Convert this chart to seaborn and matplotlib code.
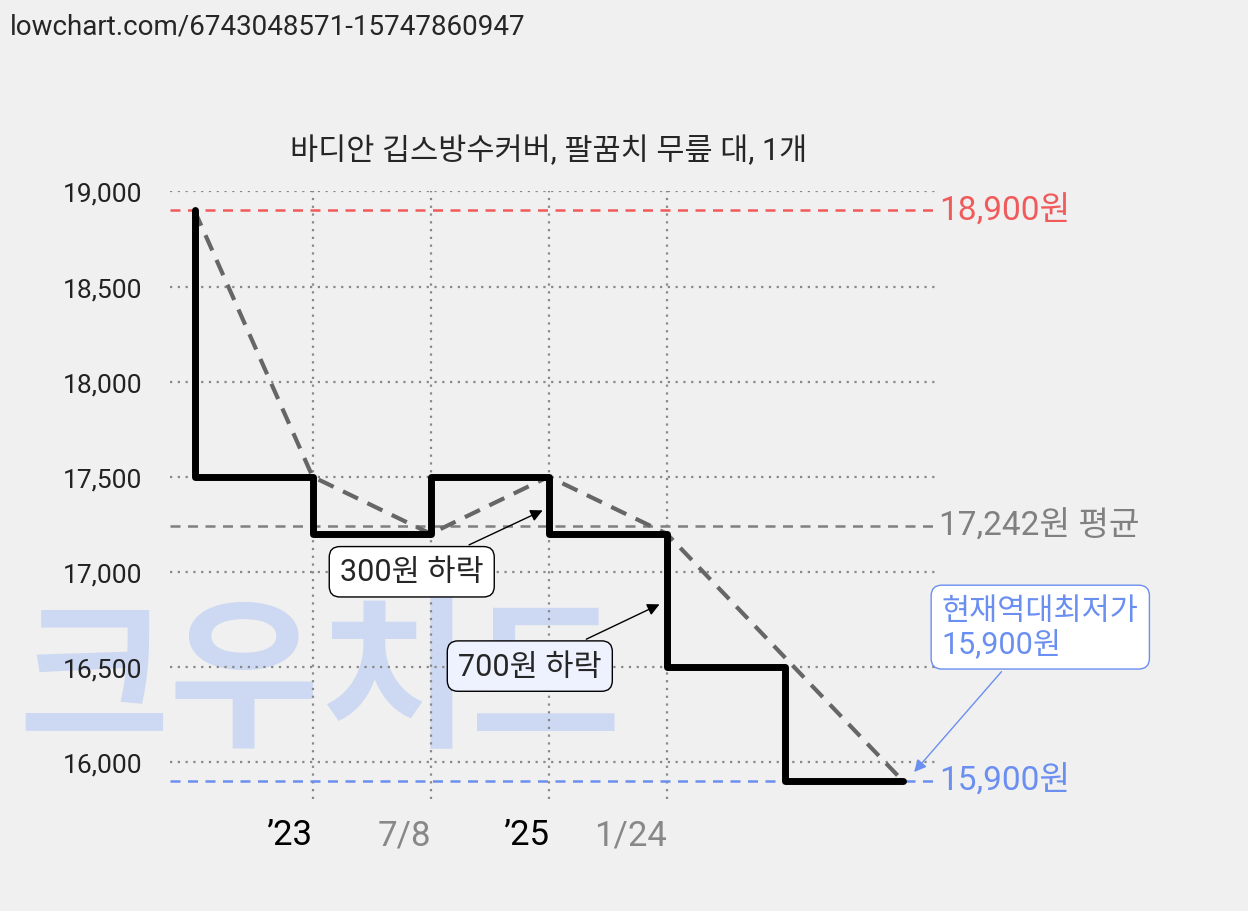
import matplotlib
matplotlib.use("Agg")
import matplotlib.pyplot as plt
import seaborn as sns
import pandas as pd

sns.set_style("white")
plt.rcParams["font.family"] = ["Roboto", "Noto Sans CJK KR", "DejaVu Sans"]

# data
step_x = [0, 0, 1, 1, 2, 2, 3, 3, 4, 4, 5, 5, 6]
step_y = [18900, 17500, 17500, 17200, 17200, 17500, 17500, 17200, 17200, 16500, 16500, 15900, 15900]
trend_x = [0, 1, 2, 3, 4, 6]
trend_y = [18900, 17500, 17200, 17500, 17200, 15900]
tick_pos = [1, 2, 3, 4]
tick_labels = ["’23", "7/8", "’25", "1/24"]
max_price, avg_price, min_price = 18900, 17242, 15900

bg = "#f0f0f0"
fig = plt.figure(figsize=(12.48, 9.12), dpi=100, facecolor=bg)
ax = fig.add_axes([0.136, 0.123, 0.613, 0.666], facecolor=bg)
ax.set_xlim(-0.21, 6.27)
ax.set_ylim(15806, 19000)

# watermark
ax.text(1.06, 16409, "크우치트", fontsize=118, fontweight="black", color="#cdd8f2",
        family="Noto Sans CJK KR", ha="center", va="center", zorder=0, clip_on=False)

for v in range(16000, 19001, 500):
    ax.axhline(v, color="#888888", ls=(0, (1, 2.5)), lw=1.6, zorder=1)
for p in tick_pos:
    ax.axvline(p, color="#888888", ls=(0, (1, 2.5)), lw=1.6, zorder=1)

ax.axhline(max_price, color="#f05a5a", ls=(0, (4, 3)), lw=1.8, zorder=2)
ax.axhline(avg_price, color="#808080", ls=(0, (4, 3)), lw=1.8, zorder=2)
ax.axhline(min_price, color="#6b8ff0", ls=(0, (4, 3)), lw=1.8, zorder=2)

sns.lineplot(data=pd.DataFrame({"x": trend_x, "y": trend_y}), x="x", y="y", ax=ax,
             color="#666666", lw=3, sort=False, estimator=None, zorder=3)
ax.lines[-1].set_linestyle((0, (4, 2.5)))
sns.lineplot(data=pd.DataFrame({"x": step_x, "y": step_y}), x="x", y="y", ax=ax,
             color="black", lw=5, sort=False, estimator=None, zorder=4)

for s in ax.spines.values():
    s.set_visible(False)
ax.set_xlabel("")
ax.set_ylabel("")
ax.set_yticks(range(16000, 19001, 500))
ax.set_yticklabels([f"{v:,}" for v in range(16000, 19001, 500)], fontsize=19, color="#222222")
ax.set_xticks(tick_pos)
ax.set_xticklabels(tick_labels, fontsize=25, ha="right")
for i, t in enumerate(ax.get_xticklabels()):
    t.set_color("black" if i % 2 == 0 else "#888888")
ax.tick_params(length=0)
ax.tick_params(axis="x", pad=14)
ax.tick_params(axis="y", pad=20)

ax.text(3.0, 19220, "바디안 깁스방수커버, 팔꿈치 무릎 대, 1개", fontsize=22, ha="center", va="center")
ax.text(6.31, max_price, "18,900원", fontsize=24, color="#f05a5a", va="center", clip_on=False)
ax.text(6.31, avg_price, "17,242원 평균", fontsize=24, color="#808080", va="center", clip_on=False)
ax.text(6.31, min_price, "15,900원", fontsize=24, color="#6b8ff0", va="center", clip_on=False)

box = dict(boxstyle="round,pad=0.35", fc="white", ec="black", lw=1)
ax.annotate("300원 하락", xy=(2.97, 17329), xytext=(1.84, 17000), fontsize=22,
            ha="center", va="center", bbox=box,
            arrowprops=dict(arrowstyle="-|>", color="black", lw=1, mutation_scale=18))
ax.annotate("700원 하락", xy=(3.96, 16835), xytext=(2.84, 16504), fontsize=22,
            ha="center", va="center", bbox=dict(box, fc="#eef2ff"),
            arrowprops=dict(arrowstyle="-|>", color="black", lw=1, mutation_scale=18))
ax.annotate("현재역대최저가\n15,900원", xy=(6.08, 15936), xytext=(6.33, 16709), fontsize=22,
            ha="left", va="center", color="#6b8ff0", linespacing=1.15,
            bbox=dict(boxstyle="round,pad=0.35", fc="white", ec="#6b8ff0", lw=1),
            arrowprops=dict(arrowstyle="-|>", color="#6b8ff0", lw=1, mutation_scale=18),
            annotation_clip=False)

fig.text(0.008, 0.985, "lowchart.com/6743048571-15747860947", fontsize=20, va="top")

fig.savefig("out.png", dpi=100, facecolor=bg)
